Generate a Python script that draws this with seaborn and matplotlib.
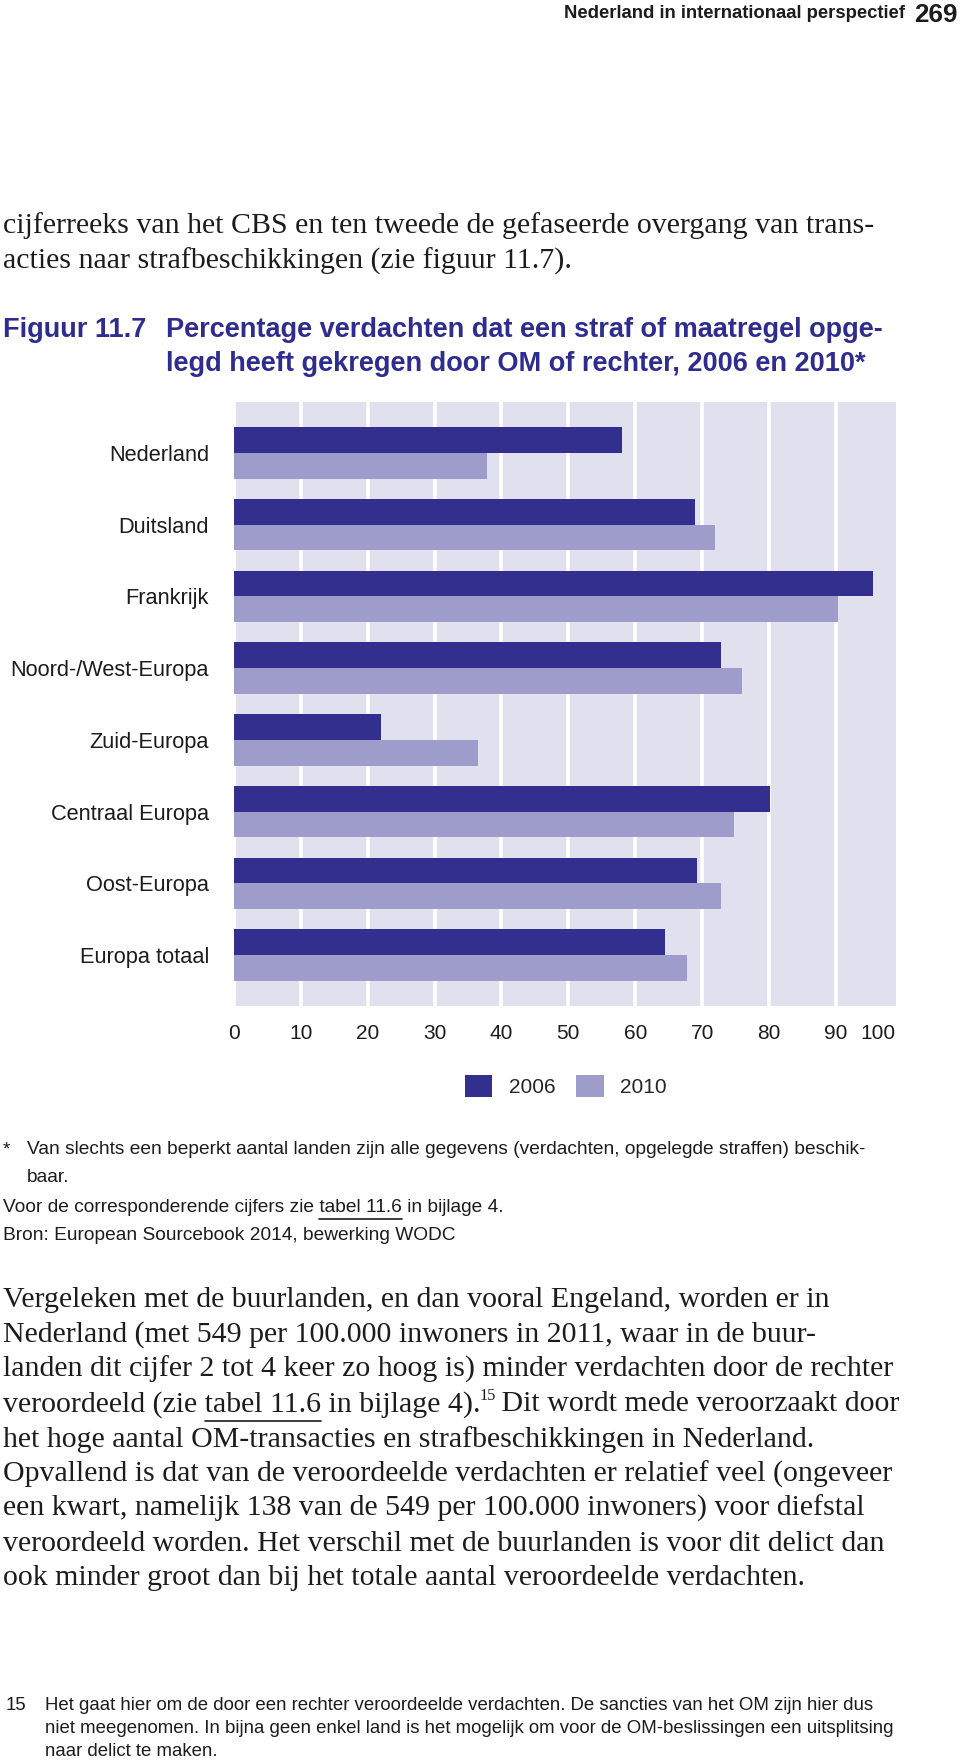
import pandas as pd
import matplotlib
matplotlib.use('Agg')
import matplotlib.pyplot as plt
from matplotlib.lines import Line2D
import seaborn as sns

# --- data ---
regios = ['Nederland', 'Duitsland', 'Frankrijk', 'Noord-/West-Europa', 'Zuid-Europa',
          'Centraal Europa', 'Oost-Europa', 'Europa totaal']
jaren = ['2006', '2010']
pct_2006 = [58.0, 68.9, 95.5, 72.9, 22.0, 80.2, 69.2, 64.5]
pct_2010 = [37.8, 71.9, 90.4, 76.0, 36.5, 74.8, 72.8, 67.7]
x_ticks = [0, 10, 20, 30, 40, 50, 60, 70, 80, 90]
x_tick_labels = [str(t) for t in x_ticks]

# --- page text ---
kop = 'Nederland in internationaal perspectief'
paginanr = '269'
intro = ['cijferreeks van het CBS en ten tweede de gefaseerde overgang van trans-',
         'acties naar strafbeschikkingen (zie figuur 11.7).']
fig_nr = 'Figuur 11.7'
fig_titel = ['Percentage verdachten dat een straf of maatregel opge-',
             'legd heeft gekregen door OM of rechter, 2006 en 2010*']
noot_ster = ['Van slechts een beperkt aantal landen zijn alle gegevens (verdachten, opgelegde straffen) beschik-',
             'baar.']
noot_cijfers = ('Voor de corresponderende cijfers zie ', 'tabel 11.6', ' in bijlage 4.')
bron = 'Bron: European Sourcebook 2014, bewerking WODC'
alinea = ['Vergeleken met de buurlanden, en dan vooral Engeland, worden er in',
          'Nederland (met 549 per 100.000 inwoners in 2011, waar in de buur-',
          'landen dit cijfer 2 tot 4 keer zo hoog is) minder verdachten door de rechter',
          None,
          'het hoge aantal OM-transacties en strafbeschikkingen in Nederland.',
          'Opvallend is dat van de veroordeelde verdachten er relatief veel (ongeveer',
          'een kwart, namelijk 138 van de 549 per 100.000 inwoners) voor diefstal',
          'veroordeeld worden. Het verschil met de buurlanden is voor dit delict dan',
          'ook minder groot dan bij het totale aantal veroordeelde verdachten.']
alinea_r4 = ('veroordeeld (zie ', 'tabel 11.6', ' in bijlage 4).', '15', ' Dit wordt mede veroorzaakt door')
voetnoot = ['Het gaat hier om de door een rechter veroordeelde verdachten. De sancties van het OM zijn hier dus',
            'niet meegenomen. In bijna geen enkel land is het mogelijk om voor de OM-beslissingen een uitsplitsing',
            'naar delict te maken.']

DARK = '#332F8F'
LIGHT = '#9E9CCB'
PANEL = '#E1E0EE'
BLUE = '#2E2D8F'
INK = '#1c1c1c'
SANS = ['Liberation Sans', 'DejaVu Sans']
SERIF = ['Liberation Serif', 'DejaVu Serif']

sns.set_theme(style='white', rc={'axes.facecolor': PANEL})
plt.rcParams['font.family'] = SANS

W, H = 960, 1763
fig = plt.figure(figsize=(W / 100, H / 100), dpi=100)
fig.patch.set_facecolor('white')
renderer = fig.canvas.get_renderer()


def width_of(s, size, **kw):
    t = fig.text(0, 0, s, fontsize=size, **kw)
    w = t.get_window_extent(renderer).width
    t.remove()
    return w


def fit(s, width, **kw):
    return 20 * width / width_of(s, 20, **kw)


def put(x, y, s, size, **kw):
    kw.setdefault('va', 'center')
    kw.setdefault('color', INK)
    return fig.text(x / W, 1 - y / H, s, fontsize=size, **kw)


def underline(x0, x1, y, lw=1.2):
    fig.add_artist(Line2D([x0 / W, x1 / W], [1 - y / H, 1 - y / H], color=INK, lw=lw))


# header
fs = fit(kop, 343, family=SANS, weight='bold')
put(905, 13, kop, fs, ha='right', weight='bold')
put(958, 3, paginanr, fs * 1.4, ha='right', va='top', weight='bold')

# intro text
fs = fit(intro[0], 872, family=SERIF)
for i, line in enumerate(intro):
    put(3, 226 + i * 35, line, fs, family=SERIF)

# figure title
fs = fit(fig_titel[0], 716, family=SANS, weight='bold')
put(3, 330, fig_nr, fs, weight='bold', color=BLUE)
for i, line in enumerate(fig_titel):
    put(166, 330 + i * 34, line, fs, weight='bold', color=BLUE)

# --- chart ---
ax = fig.add_axes([234 / W, 1 - 1006 / H, (896 - 234) / W, (1006 - 402) / H])
df = pd.DataFrame({'regio': regios * 2,
                   'jaar': [jaren[0]] * len(regios) + [jaren[1]] * len(regios),
                   'pct': pct_2006 + pct_2010})
sns.barplot(data=df, x='pct', y='regio', hue='jaar', orient='h', order=regios,
            hue_order=jaren, palette=[DARK, LIGHT], saturation=1, width=0.72,
            linewidth=0, ax=ax)
ax.set_xlim(0, 99)
ax.set_ylim(7.71, -0.71)
ax.set_xticks(x_ticks)
ax.set_xticklabels(x_tick_labels)
ax.xaxis.grid(True, color='white', linewidth=2.6)
ax.yaxis.grid(False)
ax.set_axisbelow(True)
for s in ax.spines.values():
    s.set_visible(False)
ax.set_xlabel('')
ax.set_ylabel('')
ax.tick_params(axis='x', length=0, pad=13, labelsize=15, labelcolor=INK)
ax.tick_params(axis='y', length=0, pad=18, labelsize=15.7, labelcolor=INK)
ax.annotate('100', xy=(1, 0), xycoords='axes fraction', xytext=(0, -13),
            textcoords='offset points', ha='right', va='top', fontsize=15, color=INK)
sns.move_legend(ax, 'center', bbox_to_anchor=(566 / W, 1 - 1086 / H),
                bbox_transform=fig.transFigure, ncol=2, title=None, frameon=False,
                fontsize=15, handlelength=1.3, handleheight=1.3,
                handletextpad=0.8, columnspacing=1.0)

# notes under the chart
fs = fit(noot_ster[0], 841, family=SANS)
put(3, 1150, '*', fs)
put(27, 1150, noot_ster[0], fs)
put(27, 1178, noot_ster[1], fs)
pre = width_of(noot_cijfers[0], fs)
mid = width_of(noot_cijfers[1], fs)
put(3, 1208, ''.join(noot_cijfers), fs)
underline(3 + pre, 3 + pre + mid, 1219)
put(3, 1235, bron, fs)

# paragraph
fs = fit(alinea[2], 891, family=SERIF)
for i, line in enumerate(alinea):
    y = 1300 + i * 34.8
    if line is not None:
        put(3, y, line, fs, family=SERIF)
        continue
    a, b, c, sup, d = alinea_r4
    put(3, y, a + b + c, fs, family=SERIF)
    wa = width_of(a, fs, family=SERIF)
    wb = width_of(b, fs, family=SERIF)
    wabc = width_of(a + b + c, fs, family=SERIF)
    underline(3 + wa, 3 + wa + wb, y + 17)
    put(3 + wabc - 1, y - 8, sup, fs * 0.55, family=SERIF)
    wsup = width_of(sup, fs * 0.55, family=SERIF)
    put(3 + wabc + wsup - 3, y, d, fs, family=SERIF)

# footnote 15
fs = fit(voetnoot[1], 849, family=SANS)
put(6, 1706, '15', fs)
for i, line in enumerate(voetnoot):
    put(45, 1706 + i * 22.5, line, fs)

fig.savefig('out.png', dpi=100)
